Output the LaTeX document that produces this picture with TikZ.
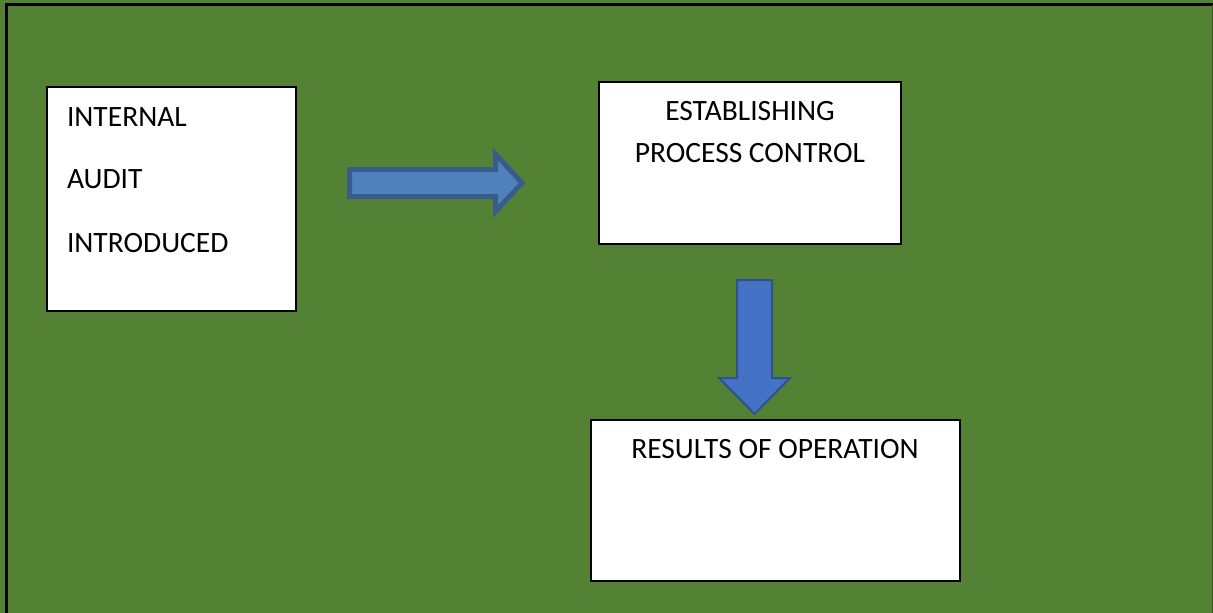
\documentclass[tikz,border=0pt]{standalone}
\usepackage{fontspec}
\setmainfont{Carlito}
\definecolor{bggreen}{HTML}{548235}
\definecolor{arrAfill}{HTML}{4F81BD}
\definecolor{arrAline}{HTML}{385D8A}
\definecolor{arrBfill}{HTML}{4472C4}
\definecolor{arrBline}{HTML}{2F528F}
\tikzset{
  boxnode/.style={draw=black, fill=white, line width=1.3pt, inner sep=0pt, outer sep=0pt},
  label text/.style={font=\fontsize{29.5}{35}\selectfont, text=black, inner sep=0pt, outer sep=0pt},
  blockarrowA/.style={fill=arrAfill, draw=arrAline, line width=5pt, line join=miter},
  blockarrowB/.style={fill=arrBfill, draw=arrBline, line width=2pt, line join=miter},
}
\begin{document}
\begin{tikzpicture}[x=1pt,y=-1pt]
\useasboundingbox (0,0) rectangle (1213,613);
\fill[bggreen] (0,0) rectangle (1213,613);
\draw[black, line width=3pt] (6.5,615) -- (6.5,4) -- (1215,4);
\draw[black!35!bggreen, line width=1pt] (1212.5,5) -- (1212.5,614);

% boxes
\node[boxnode, minimum width=249pt, minimum height=224pt] (b1) at (171.5,199) {};
\node[boxnode, minimum width=302pt, minimum height=162pt] (b2) at (750,163) {};
\node[boxnode, minimum width=369pt, minimum height=161pt] (b3) at (775.5,500.5) {};

% texts
\node[label text, anchor=base west] (t1a) at (67,126) {INTERNAL};
\node[label text, anchor=base west] (t1b) at (67,188) {AUDIT};
\node[label text, anchor=base west] (t1c) at (67,252) {INTRODUCED};
\node[label text, anchor=base] (t2a) at (750,120) {ESTABLISHING};
\node[label text, anchor=base] (t2b) at (750,162) {PROCESS CONTROL};
\node[label text, anchor=base] (t3a) at (775,458) {RESULTS OF OPERATION};

% right block arrow
\draw[blockarrowA] (349.5,169.5) -- (495.5,169.5) -- (495.5,154) -- (522,183)
  -- (495.5,211.5) -- (495.5,196.5) -- (349.5,196.5) -- cycle;

% down block arrow
\draw[blockarrowB] (737,280) -- (772,280) -- (772,378) -- (790,378) -- (754.5,414)
  -- (719,378) -- (737,378) -- cycle;
\end{tikzpicture}
\end{document}
